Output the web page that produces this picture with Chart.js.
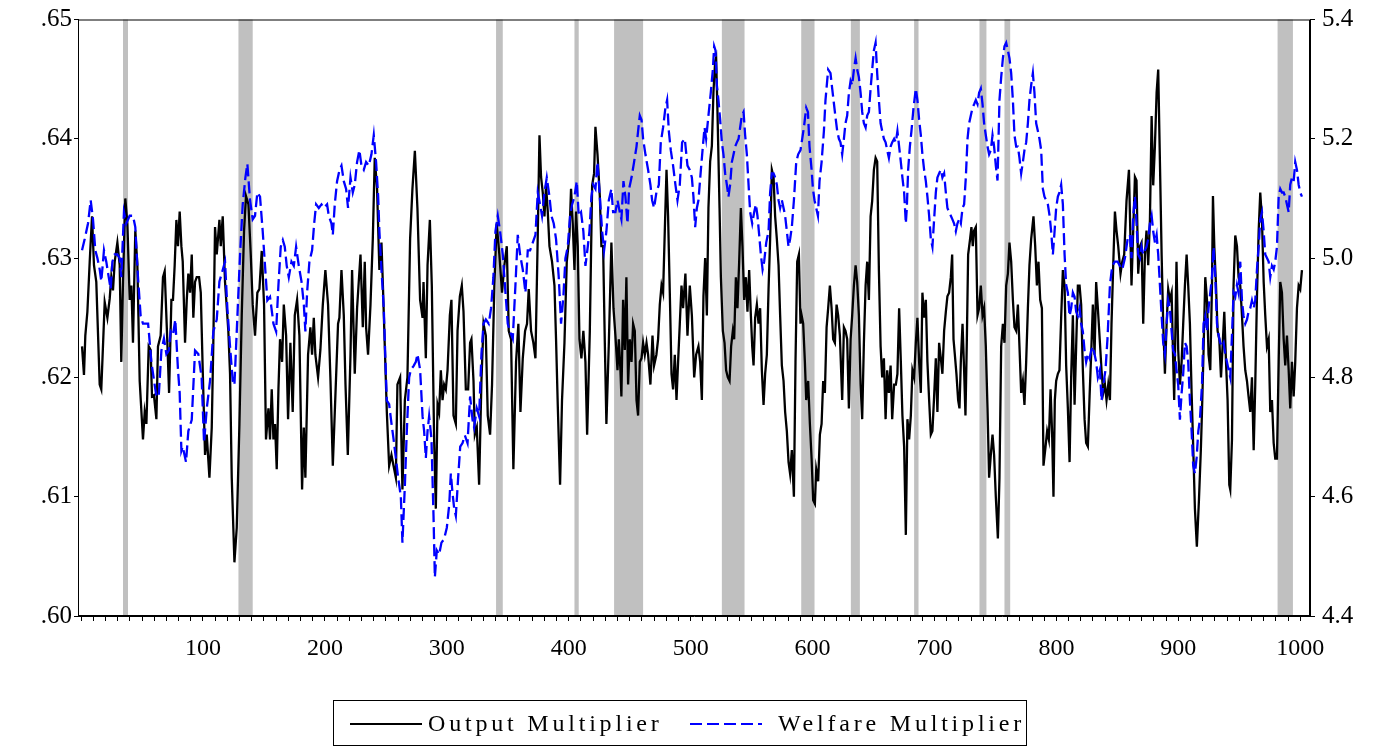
<!DOCTYPE html>
<html>
<head>
<meta charset="utf-8">
<script src="https://cdn.jsdelivr.net/npm/chart.js@4"></script>
<style>
html,body{margin:0;padding:0;background:#fff}
#wrap{position:relative;width:1390px;height:748px}
#legend{position:absolute;left:333px;top:700px;width:694px;height:46px;border:1px solid #000;box-sizing:border-box;
font-family:"Liberation Serif","Times New Roman",serif;font-size:24px;letter-spacing:3.8px;color:#000}
#legend .item{position:absolute;top:0;height:44px;line-height:44px;white-space:nowrap}
#legend svg{position:absolute}
</style>
</head>
<body>
<div id="wrap">
<canvas id="chart" width="1390" height="748"></canvas>
<div id="legend">
<svg style="left:16px;top:21px" width="72" height="4"><line x1="0" y1="2" x2="72" y2="2" stroke="#000" stroke-width="2"/></svg>
<span class="item" style="left:94px">Output Multiplier</span>
<svg style="left:356px;top:21px" width="72" height="4"><line x1="0" y1="2" x2="72" y2="2" stroke="#0000ff" stroke-width="2" stroke-dasharray="12 5"/></svg>
<span class="item" style="left:444px">Welfare Multiplier</span>
</div>
</div>
<script>

const outputObs=[0.8,2.4,3.5,5.2,7.1,9.0,10.6,12.5,15.3,16.6,19.4,21.6,23.5,24.8,26.2,27.6,29.8,31.7,33.0,34.4,36.3,38.0,39.9,41.3,42.6,44.5,46.2,48.1,50.8,52.2,53.6,55.5,57.1,58.2,59.8,61.8,63.1,65.3,67.2,68.6,70.8,72.2,74.1,75.4,76.8,78.2,79.5,80.9,
82.3,83.4,85.3,86.7,88.0,89.4,90.8,92.1,93.5,94.9,96.8,98.2,99.8,101.7,103.1,105.3,107.2,108.5,109.9,111.3,113.5,114.6,116.2,118.1,120.8,122.2,123.6,124.9,125.8,127.7,129.9,131.8,133.7,135.3,137.3,139.2,140.8,142.7,144.6,146.3,148.2,150.1,151.7,153.7,155.0,156.4,157.8,159.1,160.5,161.9,163.2,
164.9,166.3,168.2,169.8,171.7,173.6,175.3,177.2,179.1,181.3,182.7,184.0,186.2,188.1,189.5,190.9,192.2,194.4,196.3,198.3,200.4,202.6,204.6,206.5,208.7,210.8,211.9,213.6,215.5,216.9,218.8,221.0,222.3,224.5,226.4,229.2,231.1,232.7,233.8,235.4,237.4,239.3,240.9,242.8,244.7,246.4,247.5,
250.8,252.7,254.6,256.3,258.2,259.5,261.7,263.6,265.6,267.7,269.9,271.8,273.8,275.9,278.1,280.1,280.9,282.8,284.2,286.1,287.7,289.6,291.0,292.4,293.7,295.1,296.5,297.8,299.2,300.6,302.5,303.8,305.5,307.4,308.8,310.7,312.3,313.7,315.6,317.5,319.1,320.2,321.9,323.0,324.6,326.5,328.4,330.1,332.0,
333.6,335.5,337.1,339.0,340.9,343.1,345.3,347.2,349.2,350.8,352.7,354.6,356.8,358.7,360.4,362.3,364.2,365.8,367.2,369.1,371.0,372.7,374.6,376.0,377.3,378.7,380.1,381.4,382.8,384.2,386.3,388.3,389.6,391.0,392.9,394.5,396.5,398.4,400.6,401.9,403.3,404.7,406.0,407.4,408.8,410.4,412.0,413.7,415.1,
417.3,419.2,420.8,421.9,423.6,425.5,426.8,428.2,429.6,430.9,432.9,435.0,436.7,438.3,440.0,441.1,442.4,443.2,444.6,446.0,447.3,448.7,450.1,451.5,452.8,454.2,455.6,456.9,458.3,459.7,461.0,462.4,463.8,465.1,467.0,468.7,470.0,471.9,473.3,474.7,476.1,477.4,478.8,480.2,481.5,482.9,484.3,485.6,487.0,488.4,489.7,491.1,492.5,493.8,495.7,497.4,499.3,
501.0,502.9,504.5,506.4,507.8,509.2,510.5,511.9,513.3,514.6,516.0,517.4,518.7,520.1,520.9,522.0,523.7,524.8,526.4,527.8,529.1,530.5,531.9,533.2,534.6,535.7,537.1,538.4,539.8,541.2,542.5,543.9,545.3,546.6,548.0,549.4,550.5,551.6,552.9,554.3,555.7,557.0,558.4,559.8,561.1,562.5,563.9,565.2,566.6,568.0,569.3,570.7,572.1,573.4,574.8,576.2,577.5,578.9,580.3,581.6,583.0,
584.7,586.0,587.4,588.8,590.1,591.0,592.3,593.7,594.8,596.4,597.8,599.2,600.5,601.9,603.0,604.6,606.0,607.4,608.7,610.1,611.5,612.8,614.2,615.6,616.9,618.3,619.7,621.0,622.4,624.3,625.7,627.0,628.4,629.8,631.2,632.5,633.9,635.3,636.6,638.0,639.4,640.7,642.1,643.5,644.8,646.2,647.6,648.9,650.3,651.7,653.0,654.4,655.8,657.1,658.5,659.9,661.2,662.6,664.0,665.3,
666.9,668.3,669.6,671.0,672.4,673.7,675.1,676.5,677.8,679.2,680.6,681.9,683.3,684.7,686.0,687.4,688.8,690.1,691.5,692.9,694.2,695.6,697.0,698.3,699.7,701.1,702.4,703.8,705.2,706.5,707.9,709.3,710.6,712.0,713.4,714.5,715.6,716.7,718.0,719.4,720.5,721.6,723.0,724.3,725.4,726.5,727.6,729.2,730.3,731.4,732.5,733.9,735.3,736.6,738.0,739.4,740.7,742.1,743.5,744.8,746.2,747.6,748.9,750.3,
752.0,753.3,754.7,756.1,757.4,758.8,760.2,761.5,762.9,764.3,765.6,767.0,768.4,769.7,771.1,772.5,773.8,775.2,776.6,777.9,779.3,781.2,782.6,784.0,785.3,786.7,788.1,789.4,791.1,792.4,793.8,795.2,796.5,797.6,798.7,799.8,801.2,802.5,803.9,805.3,806.7,808.0,809.4,810.8,812.1,813.5,814.9,816.2,817.6,819.0,820.3,821.7,823.1,824.4,825.8,827.2,828.5,829.9,831.3,832.6,834.0,
835.7,837.0,838.4,839.8,841.1,842.5,843.9,845.2,846.6,848.0,849.3,850.7,852.6,854.0,855.6,857.5,859.5,860.6,861.6,863.0,864.4,865.7,867.1,868.5,869.8,871.2,872.6,873.9,875.3,876.7,878.1,879.4,880.8,882.2,883.5,884.9,886.3,887.6,889.0,890.4,891.7,893.1,894.5,895.8,896.6,897.7,898.5,899.9,901.3,902.7,904.0,905.4,906.8,908.1,909.5,910.9,912.2,913.6,915.2,916.9,918.5,
919.4,920.7,922.1,923.5,924.8,926.2,927.6,928.4,929.5,930.9,932.2,933.6,935.0,936.3,937.7,939.1,940.4,941.8,942.6,944.0,945.3,946.7,948.1,949.4,950.8,952.2,953.5,954.9,956.3,957.6,959.0,960.4,961.8,963.1,964.5,965.9,967.2,968.6,970.0,971.3,972.7,974.1,975.4,976.8,978.2,979.5,980.9,982.3,983.6,985.0,986.4,987.7,989.1,990.5,991.8,993.2,994.6,995.9,997.3,998.7,1000.0,1001.4]

const outputMultiplier=[.6226,.6202,.6235,.6255,.6297,.6335,.6294,.628,.6194,.619,.6263,.625,.6266,.6284,.6273,.6297,.6313,.6294,.6213,.628,.635,.6329,.6265,.6277,.6229,.6323,.6294,.6197,.6148,.6171,.6161,.6226,.6223,.6184,.6185,.6165,.6226,.6235,.6284,.6289,.6229,.6187,.6265,.6265,.6294,.6332,.631,.6339,
.631,.6297,.6229,.6265,.6287,.6271,.6303,.625,.628,.6284,.6284,.6271,.6206,.6135,.6152,.6116,.6158,.6229,.6326,.6303,.6332,.631,.6335,.628,.6239,.6203,.6116,.6074,.6045,.6074,.6161,.6252,.6323,.6352,.6345,.6303,.6261,.6235,.6271,.6274,.6306,.6261,.6148,.6174,.6148,.619,.6148,.6161,.6123,.619,.6232,
.6213,.6261,.6235,.6165,.6229,.6171,.6252,.6265,.6235,.6106,.6158,.6116,.6219,.6242,.6219,.625,.6219,.62,.6223,.6261,.629,.6261,.6197,.6126,.6187,.6245,.625,.629,.6252,.6194,.6135,.6219,.629,.6203,.6258,.6303,.6242,.6297,.6242,.6219,.6261,.6316,.6384,.6358,.629,.6313,.628,
.6171,.6126,.6135,.6126,.6116,.6194,.62,.6106,.6181,.62,.6316,.6358,.639,.6342,.6265,.625,.628,.6216,.6294,.6332,.6277,.6148,.609,.6177,.6171,.6206,.6181,.6194,.619,.6206,.6252,.6265,.6168,.6161,.6239,.6268,.6277,.6255,.619,.619,.6229,.6232,.6197,.6152,.6158,.611,.6197,.6245,.6235,
.6168,.6152,.6194,.6277,.6329,.6303,.6271,.6294,.631,.6239,.6232,.6123,.6213,.6245,.6171,.6216,.6239,.6245,.6274,.6239,.6229,.6216,.6319,.6403,.6368,.6355,.6335,.6361,.6339,.631,.6297,.6277,.6232,.6177,.611,.6181,.6229,.6297,.6319,.6358,.6329,.629,.6339,.631,.6232,.6216,.6239,.6213,.6152,
.6239,.6361,.6371,.641,.6387,.6352,.631,.631,.6229,.6161,.6229,.6313,.6258,.6235,.6206,.6232,.6206,.6184,.6265,.6223,.6284,.6194,.6232,.6213,.6245,.6239,.6181,.6168,.6213,.6216,.6229,.6219,.6229,.6219,.6194,.6235,.621,.6219,.6232,.6261,.6277,.6271,.6323,.6374,.6335,.6271,.6203,.619,.6219,.6181,.6213,.6245,.6277,.6258,.6287,.6235,.6277,
.6252,.62,.6219,.6226,.6213,.6181,.6268,.63,.6252,.6342,.6381,.6394,.6439,.6465,.6468,.6423,.6342,.6284,.6239,.6229,.6206,.62,.6197,.6226,.6239,.6232,.6284,.6258,.6297,.6342,.631,.6265,.6284,.6255,.629,.6252,.6226,.621,.625,.6261,.6245,.6258,.6206,.6177,.6203,.6219,.6274,.6316,.6374,.6368,.6335,.6316,.6294,.6252,.621,.6197,.6171,.6155,.6129,.6119,.6139,
.61,.6213,.6297,.6303,.6245,.6252,.6245,.6213,.6181,.6197,.6161,.6132,.6097,.6094,.6123,.6113,.6152,.6161,.6197,.6187,.6242,.6258,.6277,.6258,.6232,.6229,.6261,.6252,.6235,.6181,.6242,.6239,.6232,.6174,.6232,.6252,.6277,.6294,.628,.6252,.6194,.6165,.6229,.6277,.6297,.6265,.6335,.6348,.6374,.6384,.6381,.629,.6226,.62,.6216,.6165,.6206,.6187,.621,.6165,
.6194,.6194,.6203,.6258,.6213,.6168,.6142,.6068,.6165,.6148,.6168,.6206,.62,.6229,.625,.6213,.6187,.6271,.625,.6265,.6213,.6181,.6152,.6155,.6184,.6216,.6171,.6229,.6216,.6203,.6239,.6255,.6268,.6271,.6284,.6303,.6232,.6219,.6203,.6181,.6174,.6213,.6245,.6206,.6168,.6229,.6303,.6316,.6326,.631,.6323,.6326,.6252,.6258,.6277,.6252,.6258,.6226,.6174,.6116,.6135,.6152,.6135,.61,
.6065,.6116,.6226,.6245,.6229,.6277,.6287,.6313,.6297,.6265,.6242,.6239,.6261,.6226,.6187,.6197,.6177,.6213,.6258,.6294,.6316,.6335,.631,.6277,.6297,.6265,.6258,.6126,.6142,.6155,.6148,.619,.6152,.61,.6181,.6197,.6203,.6206,.625,.629,.6277,.621,.6174,.6129,.62,.6252,.6177,.6226,.6277,.6277,.6261,.6206,.6165,.6145,.6142,.6184,.6219,.6261,.6219,.628,.6258,
.6229,.6206,.6187,.6194,.6181,.6194,.6181,.6245,.6294,.6339,.6323,.631,.6287,.6297,.6303,.6348,.6374,.6323,.6277,.6323,.6368,.6365,.6287,.631,.6313,.6245,.6303,.6323,.6294,.6332,.6419,.6361,.6394,.6439,.6458,.6381,.6303,.6245,.6203,.6245,.6274,.6265,.6271,.6213,.6181,.6245,.6297,.6223,.6194,.6213,.6245,.6277,.6303,.6277,.6245,.6187,.6142,.609,.6058,.6097,.614,
.6171,.6223,.6284,.6265,.6219,.6206,.6277,.6352,.631,.6277,.6239,.6232,.62,.6226,.6255,.6213,.6181,.611,.6106,.6148,.6277,.6319,.631,.6284,.6277,.6252,.6226,.6206,.6197,.6184,.6171,.62,.6139,.6194,.6268,.6323,.6355,.6332,.628,.6252,.6226,.6232,.6171,.6181,.6145,.6132,.6132,.6213,.628,.6271,.6232,.621,.6235,.6206,.6174,.6213,.6184,.6213,.6258,.6277,.6274,.629]

const welfareObs=[0.8,3.0,5.7,7.9,9.8,11.7,13.4,15.3,16.6,18.8,20.7,22.7,24.3,25.7,27.6,29.8,31.7,33.0,35.2,37.1,39.9,42.6,44.5,46.7,48.9,50.8,52.7,55.0,57.7,59.9,61.8,63.7,65.9,68.0,70.0,71.9,73.5,75.4,77.3,79.5,80.9,82.3,
83.4,86.1,88.0,90.8,93.5,96.2,98.9,100.9,103.1,105.8,108.5,111.3,113.5,115.4,118.1,120.0,122.2,124.4,125.8,127.7,130.4,132.6,134.8,136.4,138.6,140.8,142.7,144.6,146.8,149.0,150.9,152.8,155.0,157.8,160.0,161.9,163.8,
165.5,167.1,168.7,170.4,172.6,174.5,176.4,178.6,180.8,182.7,184.0,185.4,187.3,189.5,191.2,192.8,195.0,197.2,199.1,201.8,203.2,205.4,206.5,208.1,210.0,212.0,213.6,215.5,217.4,219.0,221.0,222.9,224.5,226.4,228.3,230.0,231.9,233.8,236.0,238.2,240.1,242.0,243.7,244.7,246.4,248.3,249.7,
250.8,252.7,254.6,256.3,258.2,260.1,262.3,263.6,265.6,267.2,269.1,270.5,272.7,274.6,275.9,278.1,280.1,281.4,282.8,284.2,285.5,287.4,289.1,290.2,291.8,293.7,295.6,297.8,300.0,302.0,303.3,304.7,306.0,307.4,309.3,311.0,312.9,314.8,317.0,319.1,321.1,322.4,324.6,326.5,328.4,330.1,332.0,
334.4,336.3,338.2,339.9,341.8,343.7,345.9,348.1,350.0,351.9,354.1,356.3,358.2,360.1,362.3,364.5,366.4,368.3,370.5,372.7,374.6,376.5,378.1,380.1,382.0,384.2,385.8,387.7,389.6,391.8,393.7,395.6,397.3,399.2,401.1,402.8,404.7,406.6,408.2,410.1,412.0,413.7,415.6,417.0,
418.6,420.0,421.9,423.6,425.5,427.4,429.0,430.9,432.9,435.0,436.4,438.3,440.0,441.9,443.2,444.9,446.5,448.2,449.5,451.5,453.6,455.6,456.9,458.3,459.7,461.0,462.9,465.1,467.0,468.4,470.0,471.9,473.9,475.5,477.4,479.3,480.7,482.1,483.7,485.6,487.5,489.2,491.1,493.0,495.2,497.4,499.3,
501.0,502.3,503.7,505.1,506.4,508.4,510.0,511.4,512.7,514.6,516.5,518.2,519.3,520.4,521.5,522.8,524.2,525.6,526.9,528.3,529.7,531.0,532.4,533.8,535.2,536.5,537.9,539.3,540.6,542.0,543.4,544.7,546.1,547.5,548.8,550.5,552.1,553.5,554.8,556.5,557.6,559.0,560.3,562.0,563.9,565.2,566.6,568.0,569.3,570.7,572.1,573.4,574.8,576.2,577.5,578.9,580.3,581.6,583.0,
584.7,586.6,588.2,590.1,591.5,592.9,594.8,596.2,597.5,599.2,600.3,601.6,603.0,604.4,605.7,607.4,609.3,610.6,612.8,614.7,616.1,618.3,620.2,621.6,622.9,624.3,625.7,627.0,628.4,629.8,631.2,632.5,633.9,635.3,636.6,638.0,639.4,640.7,642.1,643.5,644.8,646.2,647.6,648.9,650.3,651.7,653.0,654.4,655.8,657.1,658.5,659.9,661.2,662.6,664.0,665.3,
666.9,668.3,669.6,671.0,672.4,673.7,675.1,676.5,677.3,678.4,679.8,681.1,682.8,684.7,686.0,687.4,688.8,690.1,691.5,692.9,694.2,695.6,697.0,698.3,699.7,701.1,702.4,703.8,705.2,706.5,707.9,709.3,710.6,712.0,713.4,714.7,716.1,717.5,718.8,720.2,721.6,723.0,724.3,725.7,727.1,728.4,729.8,731.2,732.5,733.9,735.3,736.6,738.0,739.4,740.7,742.1,743.5,744.8,746.2,747.6,748.9,750.3,
751.7,753.3,754.7,756.1,757.4,758.8,760.2,761.5,762.9,764.3,765.6,767.0,768.4,769.7,771.1,772.5,773.8,775.2,776.6,777.9,779.3,780.7,782.0,783.4,784.8,786.1,787.5,788.9,790.2,791.6,793.0,794.4,795.7,797.1,798.5,799.8,801.2,802.5,803.9,805.3,806.7,808.0,809.4,810.8,812.1,813.5,814.9,816.2,817.6,819.0,820.3,821.7,823.1,824.4,825.8,827.2,828.5,829.9,831.3,832.6,834.0,
835.7,837.0,838.4,840.3,841.9,843.9,845.8,848.0,850.2,852.1,854.0,856.2,858.4,860.3,861.6,863.0,864.4,865.7,867.1,868.5,869.8,871.2,872.6,873.9,875.3,876.7,878.1,879.4,880.8,882.2,883.5,884.9,886.3,887.6,889.0,890.4,891.7,893.1,894.5,895.8,897.2,898.5,899.9,901.3,902.7,904.0,905.4,906.8,908.1,909.5,910.9,912.2,913.6,915.0,916.4,917.7,
919.4,920.7,922.1,923.5,924.8,926.2,927.6,928.9,930.3,931.7,933.0,934.4,935.8,937.1,938.5,939.9,941.2,942.6,944.0,945.3,946.7,948.1,949.4,950.8,952.2,953.5,954.9,956.3,957.6,959.0,960.4,961.8,963.1,964.5,965.9,967.2,968.6,970.0,971.3,972.7,974.1,975.4,976.8,978.2,979.5,980.9,982.3,983.6,985.0,986.4,987.7,989.1,990.5,991.8,993.2,994.6,995.9,997.3,998.7,1000.0,1001.4]

const welfareMultiplier=[5.013,5.032,5.058,5.097,5.065,5.013,5.0,4.981,4.961,5.013,4.994,4.968,4.948,4.994,5.006,5.006,5.0,4.968,5.077,5.058,5.071,5.071,5.052,4.968,4.903,4.89,4.89,4.89,4.826,4.794,4.768,4.768,4.845,4.865,4.839,4.845,4.877,4.871,4.897,4.813,4.774,4.677,
4.684,4.658,4.71,4.729,4.845,4.839,4.8,4.69,4.748,4.794,4.877,4.897,4.961,4.974,4.994,4.916,4.852,4.794,4.787,4.877,5.006,5.09,5.135,5.158,5.097,5.065,5.071,5.11,5.103,5.045,4.987,4.929,4.935,4.89,4.877,4.955,5.019,
5.03,5.019,4.987,4.968,4.994,4.987,5.019,4.987,4.961,4.923,4.877,4.942,4.994,5.013,5.058,5.09,5.084,5.09,5.084,5.09,5.071,5.058,5.039,5.09,5.129,5.148,5.155,5.129,5.116,5.084,5.135,5.11,5.123,5.161,5.181,5.155,5.148,5.161,5.155,5.174,5.206,5.161,5.103,5.045,4.981,4.916,4.826,
4.761,4.755,4.723,4.697,4.665,4.632,4.6,4.523,4.619,4.71,4.8,4.813,4.819,4.826,4.839,4.813,4.735,4.71,4.665,4.71,4.735,4.697,4.568,4.465,4.51,4.503,4.523,4.529,4.548,4.587,4.639,4.606,4.581,4.568,4.632,4.684,4.69,4.703,4.69,4.768,4.729,4.716,4.748,4.735,4.839,4.89,4.897,
4.89,4.916,4.968,5.045,5.071,5.045,5.006,4.942,4.89,4.877,4.865,4.955,5.039,5.006,4.981,4.942,5.013,5.013,5.026,5.039,5.11,5.09,5.071,5.11,5.135,5.103,5.071,5.058,5.032,4.968,4.89,4.935,5.0,5.019,5.071,5.09,5.103,5.129,5.071,5.077,5.045,4.987,5.019,5.045,
5.103,5.123,5.116,5.161,5.103,5.045,5.013,5.045,5.097,5.116,5.077,5.077,5.097,5.077,5.065,5.129,5.103,5.058,5.116,5.135,5.161,5.187,5.213,5.239,5.232,5.2,5.174,5.148,5.123,5.097,5.084,5.11,5.123,5.194,5.219,5.252,5.265,5.213,5.181,5.155,5.123,5.097,5.123,5.194,5.2,5.155,5.148,
5.135,5.103,5.052,5.084,5.097,5.148,5.187,5.219,5.2,5.239,5.277,5.316,5.355,5.348,5.29,5.265,5.232,5.194,5.174,5.142,5.123,5.103,5.123,5.161,5.174,5.187,5.194,5.2,5.219,5.239,5.245,5.206,5.174,5.123,5.077,5.058,5.077,5.09,5.071,5.032,5.006,4.981,4.994,5.026,5.045,5.11,5.142,5.142,5.135,5.123,5.097,5.084,5.097,5.084,5.071,5.045,5.019,5.032,5.052,
5.097,5.161,5.174,5.181,5.2,5.219,5.252,5.245,5.187,5.148,5.116,5.097,5.084,5.071,5.129,5.161,5.213,5.265,5.316,5.31,5.284,5.245,5.213,5.2,5.194,5.174,5.2,5.226,5.239,5.277,5.297,5.29,5.316,5.335,5.316,5.303,5.277,5.245,5.226,5.219,5.239,5.245,5.284,5.316,5.348,5.361,5.31,5.265,5.226,5.213,5.2,5.194,5.181,5.168,5.187,5.194,
5.2,5.194,5.213,5.187,5.161,5.135,5.11,5.058,5.084,5.148,5.187,5.213,5.252,5.284,5.265,5.232,5.206,5.174,5.148,5.129,5.103,5.071,5.032,5.019,5.065,5.11,5.135,5.142,5.148,5.135,5.142,5.11,5.084,5.077,5.071,5.065,5.058,5.045,5.058,5.065,5.058,5.084,5.09,5.135,5.2,5.226,5.239,5.252,5.258,5.265,5.258,5.277,5.284,5.258,5.226,5.206,5.187,5.174,5.181,5.206,5.187,5.155,
5.13,5.265,5.303,5.335,5.355,5.361,5.348,5.335,5.31,5.265,5.206,5.187,5.187,5.168,5.142,5.161,5.181,5.194,5.226,5.265,5.29,5.31,5.277,5.226,5.213,5.2,5.181,5.116,5.103,5.097,5.09,5.071,5.045,5.006,5.045,5.084,5.103,5.11,5.123,5.09,5.006,4.955,4.942,4.903,4.916,4.942,4.935,4.91,4.903,4.916,4.89,4.877,4.845,4.826,4.839,4.832,4.845,4.852,4.839,4.826,4.8,
4.813,4.761,4.787,4.813,4.865,4.955,4.987,4.994,4.994,4.987,4.981,5.0,5.032,5.039,5.0,5.071,5.103,5.058,5.006,5.0,5.019,5.006,5.013,5.019,5.032,5.058,5.071,5.045,5.026,5.039,5.006,4.955,4.903,4.858,4.839,4.89,4.929,4.916,4.877,4.845,4.839,4.813,4.787,4.729,4.774,4.806,4.858,4.852,4.826,4.761,4.71,4.652,4.639,4.665,4.71,4.729,
4.787,4.89,4.903,4.877,4.916,4.942,4.968,5.019,4.968,4.89,4.871,4.858,4.852,4.858,4.839,4.826,4.813,4.8,4.871,4.942,4.935,4.955,4.942,4.994,4.929,4.903,4.89,4.897,4.91,4.916,4.929,4.916,4.929,4.981,5.019,5.065,5.077,5.045,5.006,5.0,4.994,4.968,4.987,4.981,4.994,5.019,5.103,5.116,5.11,5.11,5.103,5.09,5.077,5.123,5.135,5.129,5.161,5.148,5.123,5.11,5.103]

// shaded periods (start / end observation)
const shadeStart=[34.4,129.1,340.4,404.7,437.2,525.6,590.7,631.4,683.3,736.9,757.4,981.4]
const shadeEnd=[38.5,140.8,345.9,408.2,461.0,544.2,601.6,638.8,686.9,742.6,762.1,994.0]

const leftTicks=[0.60,0.61,0.62,0.63,0.64,0.65]
const rightTicks=[4.4,4.6,4.8,5.0,5.2,5.4]
const xTicks=[]
for(let v=0;v<=1000;v+=10) xTicks.push(v)

const toPoints=(xs,ys)=>xs.map((x,i)=>({x:x,y:ys[i]}))

const serif="'Liberation Serif','Times New Roman',serif"

const shadePlugin={
id:"shade",
beforeDatasetsDraw(chart){
const {ctx,chartArea:a,scales}=chart
ctx.save()
ctx.fillStyle="#c0c0c0"
shadeStart.forEach((s,i)=>{
const x0=scales.x.getPixelForValue(s)
const x1=scales.x.getPixelForValue(shadeEnd[i])
ctx.fillRect(x0,a.top,x1-x0,a.bottom-a.top)
})
ctx.restore()
},
afterDraw(chart){
const {ctx,chartArea:a}=chart
ctx.save()
ctx.strokeStyle="#000"
ctx.lineWidth=1
ctx.strokeRect(a.left+0.5,a.top+0.5,a.right-a.left-1,a.bottom-a.top-1)
ctx.restore()
}
}

new Chart(document.getElementById("chart"),{
type:"scatter",
data:{
datasets:[
{
label:"Welfare Multiplier",
data:toPoints(welfareObs,welfareMultiplier),
yAxisID:"y1",
showLine:true,
borderColor:"#0000ff",
borderWidth:2.3,
borderDash:[12,5],
pointRadius:0,
tension:0,
order:0
},
{
label:"Output Multiplier",
data:toPoints(outputObs,outputMultiplier),
yAxisID:"y",
showLine:true,
borderColor:"#000000",
borderWidth:2.3,
pointRadius:0,
tension:0,
order:1
}
]
},
options:{
responsive:false,
animation:false,
layout:{padding:{top:18,left:0,right:0,bottom:0}},
plugins:{legend:{display:false},tooltip:{enabled:false}},
scales:{
x:{
type:"linear",
min:-2.5,
max:1008,
afterBuildTicks(s){s.ticks=xTicks.map(v=>({value:v}))},
afterFit(s){s.height=132},
grid:{drawOnChartArea:false,drawTicks:true,tickLength:5,color:"#000"},
border:{display:true,color:"#000"},
ticks:{
autoSkip:false,maxRotation:0,padding:13,color:"#000",
font:{family:serif,size:24},
callback:(v)=>(v>0&&v%100===0)?String(v):""
}
},
y:{
position:"left",
min:0.60,
max:0.65,
afterBuildTicks(s){s.ticks=leftTicks.map(v=>({value:v}))},
afterFit(s){s.width=78},
grid:{drawOnChartArea:false,drawTicks:true,tickLength:4,color:"#000"},
border:{display:true,color:"#000"},
ticks:{
padding:2,color:"#000",
font:{family:serif,size:25,lineHeight:1},
callback:(v)=>v.toFixed(2).replace("0.",".")
}
},
y1:{
position:"right",
min:4.4,
max:5.4,
afterBuildTicks(s){s.ticks=rightTicks.map(v=>({value:v}))},
afterFit(s){s.width=80},
grid:{drawOnChartArea:false,drawTicks:true,tickLength:5,color:"#000"},
border:{display:true,color:"#000"},
ticks:{
padding:7,color:"#000",
font:{family:serif,size:25,lineHeight:1},
callback:(v)=>v.toFixed(1)
}
}
}
},
plugins:[shadePlugin]
})

</script>
</body>
</html>
